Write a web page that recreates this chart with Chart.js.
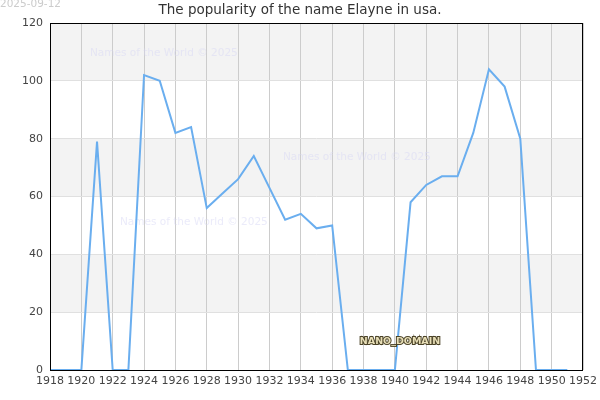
<!DOCTYPE html>
<html>
<head>
<meta charset="utf-8">
<script src="https://cdn.jsdelivr.net/npm/chart.js@4.4.0/dist/chart.umd.min.js"></script>
<style>
html,body{margin:0;padding:0;background:#fff;}
#wrap{width:600px;height:400px;position:relative;}
</style>
</head>
<body>
<div id="wrap"><canvas id="c" width="600" height="400"></canvas></div>
<script>
const years = [1918,1919,1920,1921,1922,1923,1924,1925,1926,1927,1928,1929,1930,1931,1932,1933,1934,1935,1936,1937,1938,1939,1940,1941,1942,1943,1944,1945,1946,1947,1948,1949,1950,1951];
const counts = [0,0,0,79,0,0,102,100,82,84,56,61,66,74,63,52,54,49,50,0,0,0,0,58,64,67,67,82,104,98,80,0,0,0];
const yTicks = [0,20,40,60,80,100,120];
const xTicks = [1918,1920,1922,1924,1926,1928,1930,1932,1934,1936,1938,1940,1942,1944,1946,1948,1950,1952];
const titleText = "The popularity of the name Elayne in usa.";
const dateText = "2025-09-12";
const watermark = "Names of the World © 2025";
const FONT = "'DejaVu Sans', sans-serif";

const bgPlugin = {
  id: 'bg',
  beforeDraw(chart) {
    const {ctx, chartArea: a, scales: {y}} = chart;
    ctx.save();
    ctx.fillStyle = '#fff';
    ctx.fillRect(0,0,chart.width,chart.height);
    ctx.fillStyle = '#f3f3f3';
    for (let i = 0; i < yTicks.length - 1; i++) {
      if (i % 2 === 1) {
        const top = y.getPixelForValue(yTicks[i+1]);
        const bot = y.getPixelForValue(yTicks[i]);
        ctx.fillRect(a.left, top, a.right - a.left, bot - top);
      }
    }
    ctx.restore();
  },
  beforeDatasetsDraw(chart) {
    const {ctx} = chart;
    ctx.save();
    ctx.font = "10.5px " + FONT;
    ctx.fillStyle = 'rgba(215,215,245,0.5)';
    ctx.textBaseline = 'middle';
    ctx.textAlign = 'left';
    ctx.fillText(watermark, 90, 53);
    ctx.fillText(watermark, 283, 157);
    ctx.fillText(watermark, 120, 222);
    ctx.restore();
  },
  afterDraw(chart) {
    const {ctx, chartArea: a} = chart;
    ctx.save();
    ctx.strokeStyle = '#000';
    ctx.lineWidth = 1;
    ctx.strokeRect(Math.round(a.left)+0.5, Math.round(a.top)+0.5, Math.round(a.right-a.left)-1, Math.round(a.bottom-a.top));
    ctx.font = "13.5px " + FONT;
    ctx.fillStyle = '#333';
    ctx.textAlign = 'center';
    ctx.textBaseline = 'middle';
    ctx.fillText(titleText, 300, 10);
    ctx.font = "10.5px " + FONT;
    ctx.fillStyle = '#ccc';
    ctx.textAlign = 'left';
    ctx.fillText(dateText, 0, 4);
    ctx.font = "bold 9.5px " + FONT;
    ctx.textAlign = 'center';
    ctx.lineWidth = 2;
    ctx.strokeStyle = '#4a4226';
    ctx.strokeText('NANO_DOMAIN', 400, 342);
    ctx.fillStyle = '#e8dfb8';
    ctx.fillText('NANO_DOMAIN', 400, 342);
    ctx.restore();
  }
};

new Chart(document.getElementById('c'), {
  type: 'line',
  data: {
    datasets: [{
      data: years.map((yr, i) => ({x: yr, y: counts[i]})),
      borderColor: '#6aaeef',
      borderWidth: 2,
      pointRadius: 0,
      fill: false,
      tension: 0
    }]
  },
  options: {
    responsive: false,
    animation: false,
    devicePixelRatio: 1,
    layout: {padding: {top: 23, right: 17, left: 0, bottom: 0}},
    plugins: {legend: {display: false}, title: {display: false}, tooltip: {enabled: false}},
    scales: {
      x: {
        type: 'linear',
        min: 1918, max: 1952,
        afterBuildTicks(s) { s.ticks = xTicks.map(v => ({value: v})); },
        afterFit(s) { s.height = 30; s.paddingRight = 0; s.paddingLeft = 0; },
        grid: {color: '#cccccc', drawTicks: false},
        border: {display: false},
        ticks: {color: '#444', font: {family: FONT, size: 11}, padding: 5, maxRotation: 0, autoSkip: false, callback: v => String(v)}
      },
      y: {
        min: 0, max: 120,
        afterBuildTicks(s) { s.ticks = yTicks.map(v => ({value: v})); },
        afterFit(s) { s.width = 50; s.paddingTop = 0; s.paddingBottom = 0; },
        grid: {color: '#e0e0e0', drawTicks: false},
        border: {display: false},
        ticks: {color: '#444', font: {family: FONT, size: 11}, padding: 7, callback: v => String(v)}
      }
    }
  },
  plugins: [bgPlugin]
});
</script>
</body>
</html>
